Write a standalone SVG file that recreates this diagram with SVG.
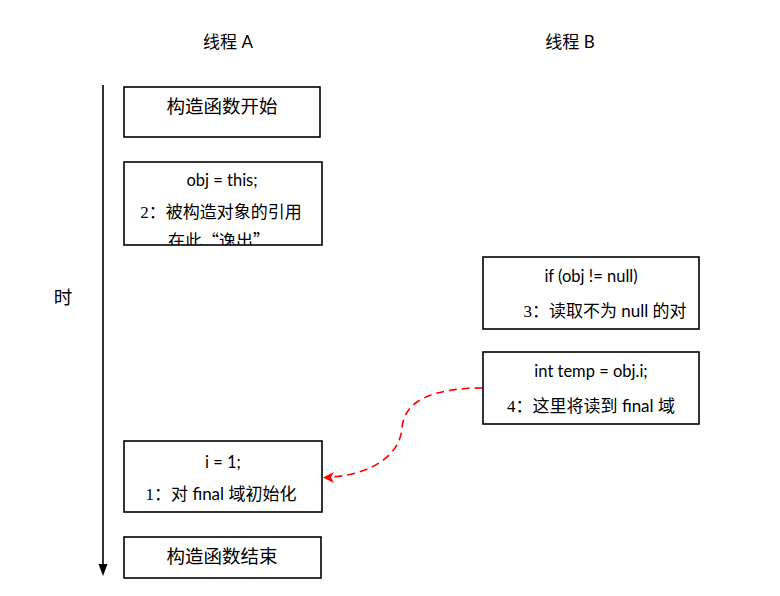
<svg xmlns="http://www.w3.org/2000/svg" width="780" height="596" viewBox="0 0 780 596">
<style>
.box{fill:#fff;stroke:#000;stroke-width:1.6}
.t{font-family:Lato,"Noto Sans CJK SC",sans-serif;fill:#000;text-anchor:middle}
.c{font-size:17px}
.e{font-size:16.5px}
.d{font-family:"Liberation Serif",serif}
.big{font-size:18.5px}
.cjk{font-family:"Noto Sans CJK SC",sans-serif}
</style>
<defs>
<clipPath id="clip2"><rect x="124" y="162" width="198" height="83"/></clipPath>
</defs>
<g id="titles">
<text class="t c" x="228" y="48">线程 A</text>
<text class="t c" x="570" y="48">线程 B</text>
<text class="t big" x="63" y="304">时</text>
</g>
<g id="connectors">
<line x1="103" y1="85" x2="103" y2="566" stroke="#000" stroke-width="1.6"/>
<polygon points="98.5,564 107.5,564 103,576" fill="#000"/>
<path d="M483,388 C430,388 404,402 402,428 C400,455 372,474 332,477" fill="none" stroke="#f00" stroke-width="1.6" stroke-dasharray="8,5"/>
<polygon points="323,477.5 334,472 331,477.3 334,483" fill="#f00"/>
</g>
<g id="n1">
<rect class="box" x="124" y="87" width="196" height="50"/>
<text class="t big" x="222" y="113">构造函数开始</text>
</g>
<g id="n2">
<rect class="box" x="124" y="162" width="198" height="83"/>
<text class="t e" x="222" y="186">obj = this;</text>
<text class="t c" x="221" y="218"><tspan class="d">2</tspan>：被构造对象的引用</text>
<text class="t c cjk" x="219" y="247" clip-path="url(#clip2)">在此“逸出”</text>
</g>
<g id="n3">
<rect class="box" x="483" y="257" width="216" height="72"/>
<text class="t e" x="591" y="282">if (obj != null)</text>
<text class="t c" x="605" y="317"><tspan class="d">3</tspan>：读取不为 null 的对</text>
</g>
<g id="n4">
<rect class="box" x="483" y="352" width="216" height="72"/>
<text class="t e" x="591" y="377">int temp = obj.i;</text>
<text class="t c" x="591" y="412"><tspan class="d">4</tspan>：这里将读到 final 域</text>
</g>
<g id="n5">
<rect class="box" x="124" y="441" width="198" height="71"/>
<text class="t e" x="223" y="468">i = 1;</text>
<text class="t c" x="221" y="500"><tspan class="d">1</tspan>：对 final 域初始化</text>
</g>
<g id="n6">
<rect class="box" x="124" y="537" width="197" height="41"/>
<text class="t big" x="222" y="563">构造函数结束</text>
</g>
</svg>
